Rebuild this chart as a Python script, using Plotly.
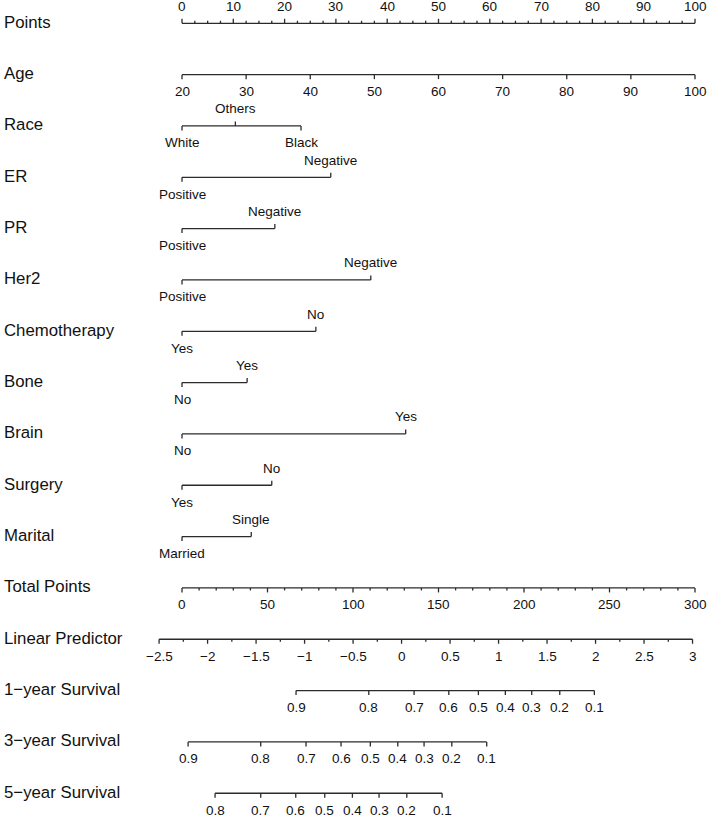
import plotly.graph_objects as go

# ---------------- data ----------------
row_names = ["Points", "Age", "Race", "ER", "PR", "Her2", "Chemotherapy", "Bone",
             "Brain", "Surgery", "Marital", "Total Points", "Linear Predictor",
             "1\u2212year Survival", "3\u2212year Survival", "5\u2212year Survival"]

points_ticks = [0, 10, 20, 30, 40, 50, 60, 70, 80, 90, 100]
points_minor_step = 2.5

age_ticks = [20, 30, 40, 50, 60, 70, 80, 90, 100]
age_at_0_points = 20
age_at_100_points = 100

race_levels = ["White", "Others", "Black"]
race_points = [0, 10.4, 23.2]
er_levels = ["Positive", "Negative"]
er_points = [0, 29.0]
pr_levels = ["Positive", "Negative"]
pr_points = [0, 18.1]
her2_levels = ["Positive", "Negative"]
her2_points = [0, 36.8]
chemo_levels = ["Yes", "No"]
chemo_points = [0, 26.1]
bone_levels = ["No", "Yes"]
bone_points = [0, 12.7]
brain_levels = ["No", "Yes"]
brain_points = [0, 43.6]
surgery_levels = ["Yes", "No"]
surgery_points = [0, 17.5]
marital_levels = ["Married", "Single"]
marital_points = [0, 13.5]

total_ticks = [0, 50, 100, 150, 200, 250, 300]
total_minor_step = 10
total_max = 300

lp_ticks = [-2.5, -2, -1.5, -1, -0.5, 0, 0.5, 1, 1.5, 2, 2.5, 3]
lp_minor_step = 0.25
total_at_lp0 = 128.4      # total points where linear predictor = 0
total_per_lp = 56.72      # total points per unit of linear predictor

surv1_labels = ["0.9", "0.8", "0.7", "0.6", "0.5", "0.4", "0.3", "0.2", "0.1"]
surv1_lp = [-1.088, -0.338, 0.129, 0.487, 0.792, 1.070, 1.342, 1.631, 1.988]
surv3_labels = ["0.9", "0.8", "0.7", "0.6", "0.5", "0.4", "0.3", "0.2", "0.1"]
surv3_lp = [-2.201, -1.452, -0.985, -0.624, -0.322, -0.039, 0.232, 0.518, 0.878]
surv5_labels = ["0.8", "0.7", "0.6", "0.5", "0.4", "0.3", "0.2", "0.1"]
surv5_lp = [-1.923, -1.452, -1.091, -0.792, -0.507, -0.232, 0.054, 0.418]

# ---------------- layout constants ----------------
W, H = 708, 817
X0_PX = 182.0          # pixel of 0 points
PX_PER_PT = 5.13
ROW0_PX = 23.3
ROW_GAP_PX = 51.33
FONT = "Liberation Sans, Arial, Helvetica, sans-serif"
LINE_COLOR = "#2b2b2b"
LABEL_SIZE = 16.8
TICK_SIZE = 13.5
MAJOR_TICK = 4.5
MINOR_TICK = 2.5
LABEL_OFF = 17.0


def dy(px):
    return px / ROW_GAP_PX


def age_to_pts(a):
    return (a - age_at_0_points) / (age_at_100_points - age_at_0_points) * 100


def total_to_pts(t):
    return t / total_max * 100


def lp_to_pts(lp):
    return total_to_pts(total_at_lp0 + total_per_lp * lp)


def fmt(v):
    s = ("%g" % v)
    return s.replace("-", "\u2212")


seg_x, seg_y = [], []
annotations = []


def seg(x0, y0, x1, y1):
    seg_x.extend([x0, x1, None])
    seg_y.extend([y0, y1, None])


def label(x, y, text, size=TICK_SIZE):
    annotations.append(dict(x=x, y=y, text=text, showarrow=False, xanchor="center",
                            yanchor="middle", font=dict(size=size, family=FONT, color="#111")))


def numeric_axis(row, tick_pts, tick_text, up, minor_pts=()):
    sgn = -1 if up else 1
    seg(min(tick_pts + list(minor_pts)), row, max(tick_pts + list(minor_pts)), row)
    for p in minor_pts:
        seg(p, row, p, row + sgn * dy(MINOR_TICK))
    for p, t in zip(tick_pts, tick_text):
        seg(p, row, p, row + sgn * dy(MAJOR_TICK))
        label(p, row + sgn * dy(LABEL_OFF), t)


def cat_axis(row, levels, pts):
    seg(min(pts), row, max(pts), row)
    order = sorted(range(len(pts)), key=lambda k: pts[k])
    for rank, k in enumerate(order):
        up = rank % 2 == 1
        sgn = -1 if up else 1
        seg(pts[k], row, pts[k], row + sgn * dy(MAJOR_TICK))
        label(pts[k], row + sgn * dy(LABEL_OFF), levels[k])


def frange(a, b, step):
    out, v = [], a
    while v <= b + 1e-9:
        out.append(round(v, 6))
        v += step
    return out


# Points
numeric_axis(0, points_ticks, [fmt(v) for v in points_ticks], up=True,
             minor_pts=[v for v in frange(points_ticks[0], points_ticks[-1], points_minor_step)
                        if v not in points_ticks])
# Age
numeric_axis(1, [age_to_pts(a) for a in age_ticks], [fmt(a) for a in age_ticks], up=False)
# categorical rows
cats = [(race_levels, race_points), (er_levels, er_points), (pr_levels, pr_points),
        (her2_levels, her2_points), (chemo_levels, chemo_points), (bone_levels, bone_points),
        (brain_levels, brain_points), (surgery_levels, surgery_points),
        (marital_levels, marital_points)]
for i, (lv, pt) in enumerate(cats):
    cat_axis(2 + i, lv, pt)
# Total points
numeric_axis(11, [total_to_pts(t) for t in total_ticks], [fmt(t) for t in total_ticks], up=False,
             minor_pts=[total_to_pts(v) for v in frange(total_ticks[0], total_ticks[-1], total_minor_step)
                        if v not in total_ticks])
# Linear predictor
numeric_axis(12, [lp_to_pts(v) for v in lp_ticks], [fmt(v) for v in lp_ticks], up=False,
             minor_pts=[lp_to_pts(v) for v in frange(lp_ticks[0], lp_ticks[-1], lp_minor_step)
                        if v not in lp_ticks])
# Survival
for i, (lab, lps) in enumerate([(surv1_labels, surv1_lp), (surv3_labels, surv3_lp),
                                (surv5_labels, surv5_lp)]):
    numeric_axis(13 + i, [lp_to_pts(v) for v in lps], lab, up=False)

# row names
for i, name in enumerate(row_names):
    annotations.append(dict(x=2 / W, xref="paper", y=i - dy(1.0), yref="y", text=name,
                            showarrow=False, xanchor="left", yanchor="middle",
                            font=dict(size=LABEL_SIZE, family=FONT, color="#111")))

fig = go.Figure()
fig.add_trace(go.Scatter(x=seg_x, y=seg_y, mode="lines",
                         line=dict(color=LINE_COLOR, width=1.3), hoverinfo="skip",
                         showlegend=False))

fig.update_layout(
    width=W, height=H,
    margin=dict(l=0, r=0, t=0, b=0),
    paper_bgcolor="white", plot_bgcolor="white",
    xaxis=dict(range=[-X0_PX / PX_PER_PT, (W - X0_PX) / PX_PER_PT], visible=False, fixedrange=True),
    yaxis=dict(range=[(H - ROW0_PX) / ROW_GAP_PX, -ROW0_PX / ROW_GAP_PX], visible=False,
               fixedrange=True),
    annotations=annotations,
    showlegend=False,
)

fig.write_html("out.html", config={"displayModeBar": False},
               post_script="document.body.style.margin='0';document.body.style.overflow='hidden';")
